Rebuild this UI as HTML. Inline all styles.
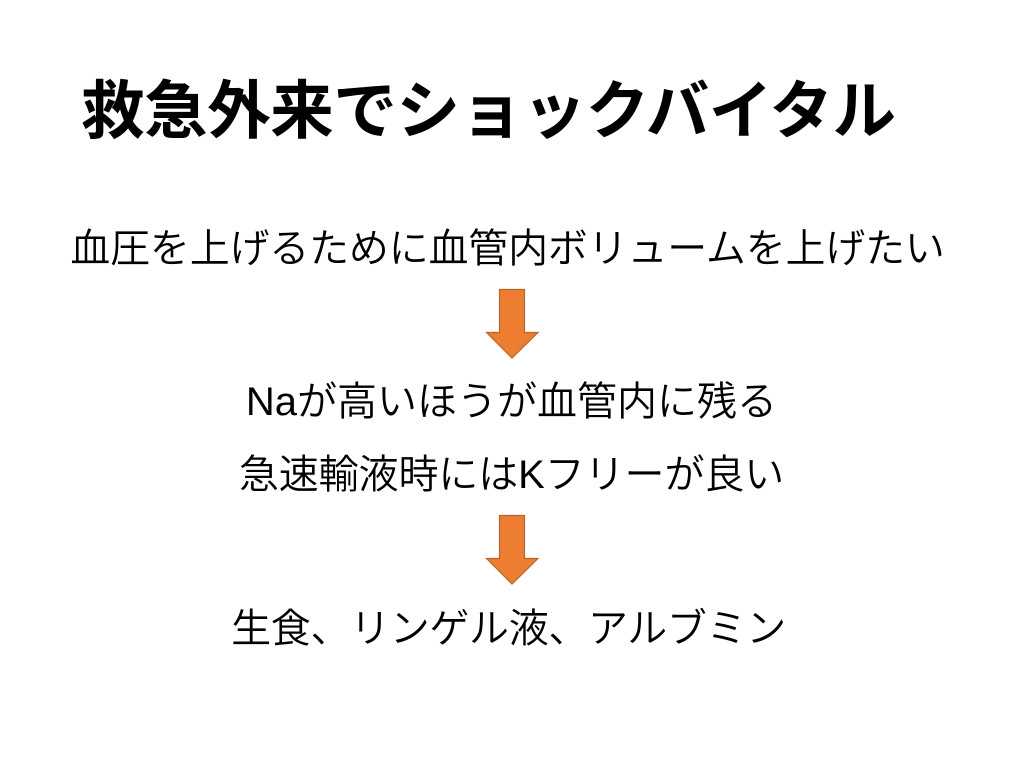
<!DOCTYPE html>
<html lang="ja">
<head>
<meta charset="utf-8">
<style>
html,body{margin:0;padding:0;background:#fff;width:1024px;height:768px;overflow:hidden}
.t{position:absolute;white-space:nowrap;color:#000;font-family:"Liberation Sans","Noto Sans CJK JP",sans-serif;line-height:1;text-align:center}
svg{position:absolute;left:0;top:0}
</style>
</head>
<body>
<div class="t" style="left:81px;top:81px;font-size:63.5px;font-weight:700;letter-spacing:-0.4px;width:860px;text-align:left">救急外来でショックバイタル</div>
<div class="t" style="left:0;width:1015px;top:229px;font-size:40px;font-weight:350;letter-spacing:-0.2px">血圧を上げるために血管内ボリュームを上げたい</div>
<div class="t" style="left:0;width:1023px;top:382px;font-size:40px;font-weight:350;letter-spacing:0">Naが高いほうが血管内に残る</div>
<div class="t" style="left:0;width:1023px;top:455px;font-size:40px;font-weight:350;letter-spacing:-0.1px">急速輸液時にはKフリーが良い</div>
<div class="t" style="left:0;width:1017px;top:609px;font-size:40px;font-weight:350;letter-spacing:-0.35px">生食、リンゲル液、アルブミン</div>
<svg width="1024" height="768" viewBox="0 0 1024 768">
<polygon points="499.5,289.5 524.5,289.5 524.5,332.5 538,332.5 512,358 486.5,332.5 499.5,332.5" fill="#ed7d31" stroke="#b7662c" stroke-width="1.2"/>
<polygon points="499.5,515.5 524.5,515.5 524.5,558.5 538,558.5 512,584 486.5,558.5 499.5,558.5" fill="#ed7d31" stroke="#b7662c" stroke-width="1.2"/>
</svg>
</body>
</html>
